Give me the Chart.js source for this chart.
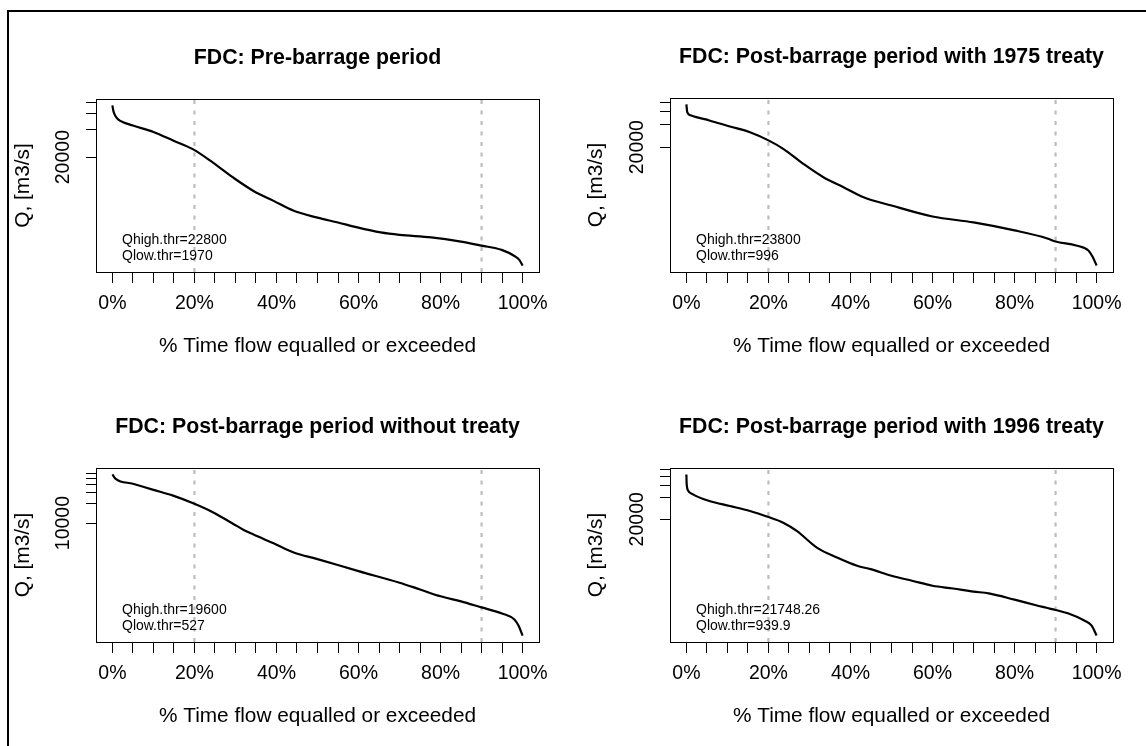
<!DOCTYPE html>
<html>
<head>
<meta charset="utf-8">
<script src="https://cdn.jsdelivr.net/npm/chart.js@4.4.1/dist/chart.umd.min.js"></script>
<style>
  body { margin: 0; background: #fff; overflow: hidden; }
  #frame { position: absolute; left: 7px; top: 10px; width: 1200px; height: 800px;
           border-left: 2px solid #000; border-top: 2px solid #000; }
  canvas { position: absolute; }
</style>
</head>
<body>
<div id="frame"></div>
<canvas id="c1" width="573" height="370" style="left:0;top:0"></canvas>
<canvas id="c2" width="573" height="370" style="left:573px;top:0"></canvas>
<canvas id="c3" width="573" height="370" style="left:0;top:370px"></canvas>
<canvas id="c4" width="573" height="370" style="left:573px;top:370px"></canvas>
<script>
// x axis: % of time flow equalled or exceeded
const xTicks = [0, 5, 10, 15, 20, 25, 30, 35, 40, 45, 50, 55, 60, 65, 70, 75, 80, 85, 90, 95, 100];
const xLabels = [0, 20, 40, 60, 80, 100];
const thrLines = [20, 90];

// pre-barrage
const prePct = [0, 0.2, 0.4, 1, 1.8, 5, 10, 14.8, 19.7, 24.6, 29.5, 34.4, 39.3, 44.2, 50, 55, 59.7, 65.4, 70, 77.7, 85, 90, 94.9, 98.1, 99.2, 100];
const preQ = [73600, 65000, 60700, 54000, 50200, 44300, 37700, 30400, 24300, 17300, 11900, 8530, 6640, 5170, 4350, 3850, 3400, 3000, 2820, 2650, 2380, 2150, 1930, 1645, 1500, 1300];

// post-barrage, 1975 treaty
const t75Pct = [0, 0.2, 1, 2.4, 5.6, 10.6, 15.5, 20, 23.6, 28.5, 33.4, 38.3, 43.2, 50, 60, 70, 80, 88, 90, 95, 98, 99, 100];
const t75Q = [75800, 59600, 54000, 51000, 46000, 38100, 31900, 24700, 19000, 11900, 7840, 5740, 4200, 3240, 2300, 1910, 1490, 1160, 1054, 932, 797, 660, 498];

// post-barrage, no treaty
const noPct = [0, 0.8, 5, 10, 14.8, 19.7, 24.6, 27, 29.5, 32, 34.4, 39.3, 44.2, 50, 60, 70, 75, 80, 85, 90, 95, 98, 99, 100];
const noQ = [58400, 49900, 41600, 33400, 27100, 20500, 14700, 12000, 9700, 7800, 6600, 4800, 3450, 2710, 1750, 1150, 900, 702, 585, 469, 377, 303, 243, 169];

// post-barrage, 1996 treaty
const t96Pct = [0, 0.05, 0.4, 1.6, 5.6, 10.6, 15.5, 20, 23.6, 26.9, 31.8, 36.7, 41.6, 44.9, 50, 55, 60, 65, 70, 73.7, 80, 85, 90, 93, 97, 98.8, 100];
const t96Q = [86100, 65500, 51200, 45000, 36200, 30800, 26200, 21500, 17900, 13700, 7960, 5760, 4400, 3950, 3180, 2700, 2300, 2100, 1900, 1790, 1460, 1230, 1045, 936, 740, 628, 454];

const titles = [
  "FDC: Pre-barrage period",
  "FDC: Post-barrage period with 1975 treaty",
  "FDC: Post-barrage period without treaty",
  "FDC: Post-barrage period with 1996 treaty",
];
const qHigh = ["22800", "23800", "19600", "21748.26"];
const qLow = ["1970", "996", "527", "939.9"];
const yTicks1 = [20000, 40000, 60000, 80000];
const yTicks2 = [20000, 40000, 60000, 80000];
const yTicks3 = [10000, 20000, 30000, 40000, 50000, 60000];
const yTicks4 = [20000, 40000, 60000, 80000, 100000];
const yLabelled = [20000, 20000, 10000, 20000];

const FONT = "'Liberation Sans', Arial, sans-serif";
Chart.defaults.font.family = FONT;
Chart.defaults.color = "#000";

const fdcPlugin = {
  id: "fdc",
  afterDraw(chart, args, opts) {
    const ctx = chart.ctx;
    const a = chart.chartArea;
    const y = chart.scales.y;
    ctx.save();
    ctx.strokeStyle = "#000";
    ctx.lineWidth = 1;
    ctx.strokeRect(Math.round(a.left) + 0.5, Math.round(a.top) + 0.5,
      Math.round(a.right - a.left), Math.round(a.bottom - a.top));
    ctx.fillStyle = "#000";
    ctx.textAlign = "center";
    ctx.textBaseline = "middle";
    ctx.font = "bold 21.3px " + FONT;
    ctx.fillText(opts.title, (a.left + a.right) / 2, a.top - 41);
    // rotated y tick label, like R's default las=0
    ctx.font = "19.5px " + FONT;
    let py = y.getPixelForValue(opts.yLabel);
    ctx.save();
    ctx.translate(a.left - 32, py);
    ctx.rotate(-Math.PI / 2);
    ctx.fillText(String(opts.yLabel), 0, 0);
    ctx.restore();
    ctx.font = "14px " + FONT;
    ctx.textAlign = "left";
    ctx.fillText("Qhigh.thr=" + opts.hi, a.left + 26, a.bottom - 31.5);
    ctx.fillText("Qlow.thr=" + opts.lo, a.left + 26, a.bottom - 16.3);
    ctx.restore();
  },
};

function logRange(q) {
  const lo = Math.log10(Math.min(...q));
  const hi = Math.log10(Math.max(...q));
  const pad = (hi - lo) * 0.04;
  return [Math.pow(10, lo - pad), Math.pow(10, hi + pad)];
}

function makeChart(id, pct, q, i, yTicks, leftW, rightPad, topPad) {
  const [ymin, ymax] = logRange(q);
  let datasets = [{
    data: pct.map((p, k) => ({ x: p, y: q[k] })),
    borderColor: "#000",
    borderWidth: 2.2,
    pointRadius: 0,
    cubicInterpolationMode: "monotone",
    order: 0,
  }];
  thrLines.forEach((v) => {
    datasets.push({
      data: [{ x: v, y: ymin }, { x: v, y: ymax }],
      borderColor: "#bdbdbd",
      borderWidth: 2.2,
      borderDash: [4, 6.5],
      pointRadius: 0,
      order: 1,
    });
  });
  return new Chart(document.getElementById(id), {
    type: "line",
    data: { datasets: datasets },
    plugins: [fdcPlugin],
    options: {
      responsive: false,
      animation: false,
      devicePixelRatio: 1,
      layout: { padding: { left: 0, top: topPad, right: rightPad, bottom: 0 } },
      plugins: {
        legend: { display: false },
        tooltip: { enabled: false },
        fdc: { title: titles[i], hi: qHigh[i], lo: qLow[i], yLabel: yLabelled[i] },
      },
      scales: {
        x: {
          type: "linear",
          min: -4,
          max: 104,
          afterBuildTicks: (s) => { s.ticks = xTicks.map((v) => ({ value: v })); },
          afterFit: (s) => { s.height = 98; },
          grid: { drawOnChartArea: false, drawTicks: true, tickLength: 11, tickColor: "#000", tickWidth: 1 },
          border: { display: false },
          ticks: {
            autoSkip: false, maxRotation: 0, padding: 9, color: "#000", font: { size: 19.5 },
            callback: (v) => (xLabels.includes(v) ? v + "%" : ""),
          },
          title: {
            display: true, text: "% Time flow equalled or exceeded", color: "#000",
            font: { size: 20.8 }, padding: { top: 0, bottom: 11.5 },
          },
        },
        y: {
          type: "logarithmic",
          min: ymin,
          max: ymax,
          afterBuildTicks: (s) => { s.ticks = yTicks.map((v) => ({ value: v })); },
          afterFit: (s) => { s.width = leftW; },
          grid: { drawOnChartArea: false, drawTicks: true, tickLength: 10, tickColor: "#000", tickWidth: 1 },
          border: { display: false },
          ticks: { display: false },
          title: {
            display: true, text: "Q, [m3/s]", color: "#000",
            font: { size: 20.8 }, padding: { top: 11, bottom: 0 },
          },
        },
      },
    },
  });
}

makeChart("c1", prePct, preQ, 0, yTicks1, 96, 34, 99);
makeChart("c2", t75Pct, t75Q, 1, yTicks2, 97, 33, 98);
makeChart("c3", noPct, noQ, 2, yTicks3, 96, 34, 98);
makeChart("c4", t96Pct, t96Q, 3, yTicks4, 97, 33, 98);
</script>
</body>
</html>
